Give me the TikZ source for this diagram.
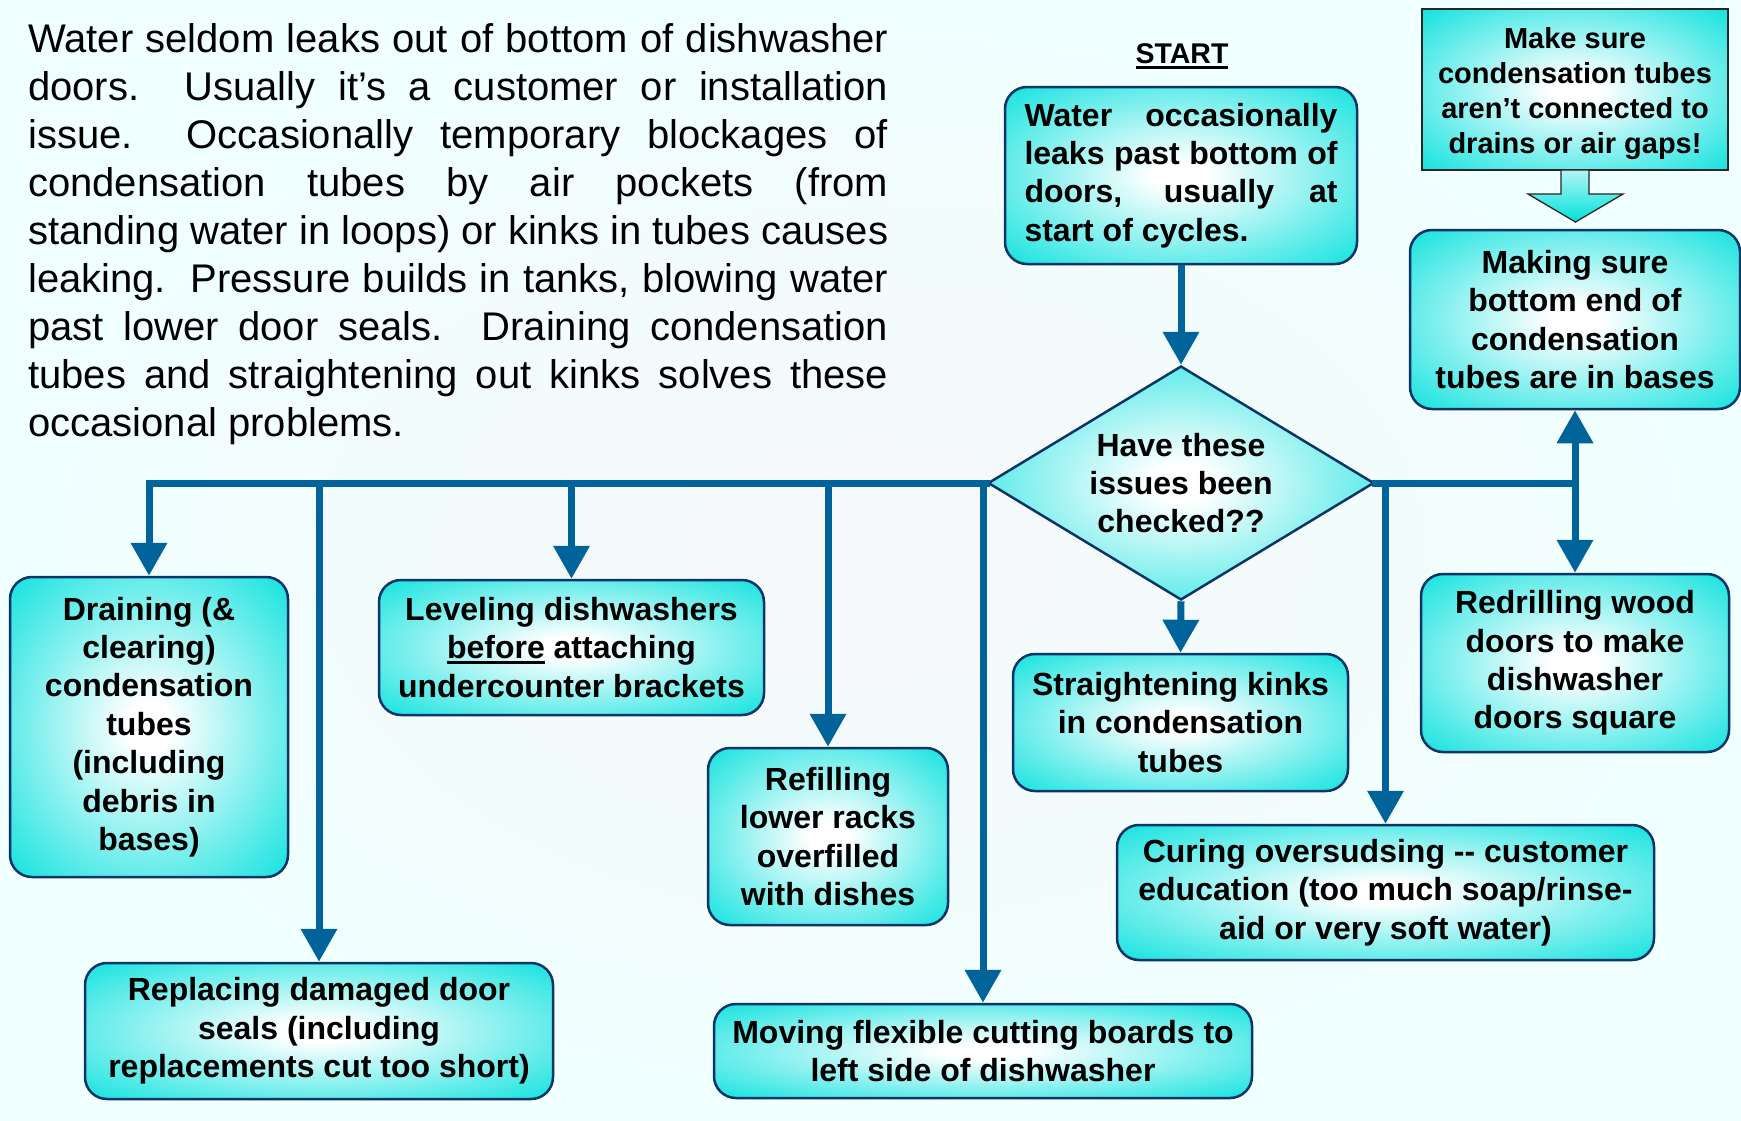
\documentclass[tikz,border=0pt]{standalone}
\usepackage{fontspec}
\setmainfont{Liberation Sans}
\usetikzlibrary{shapes.geometric,arrows.meta}
\definecolor{cyanbox}{RGB}{0,224,220}
\definecolor{boxline}{RGB}{12,52,105}
\definecolor{conncol}{RGB}{0,100,155}
\definecolor{bgin}{RGB}{246,248,250}
\definecolor{bgout}{RGB}{240,255,255}
\newcommand\myul[2]{\setbox0\hbox{#1}\rlap{\rule[#2]{\wd0}{3.2pt}}\box0\relax}
\pgfdeclareradialshading{boxshade}{\pgfpoint{0bp}{0bp}}{color(0bp)=(white); color(4bp)=(white); color(38bp)=(cyanbox); color(50bp)=(cyanbox)}
\tikzset{
  box/.style={draw=boxline, line width=2.5pt, rounded corners=22pt, shading=boxshade, inner sep=0pt, align=center, font=\bfseries\fontsize{32}{38.4}\selectfont},
  sqbox/.style={box, draw=black!85, rounded corners=0pt, line width=2pt, font=\bfseries\fontsize{29}{35.2}\selectfont},
  conn/.style={draw=conncol, line width=7pt},
  arr/.style={conn, -{Triangle[width=35pt,length=33pt]}},
}
\begin{document}
\begin{tikzpicture}[x=1pt,y=-1pt]
\useasboundingbox (0,0) rectangle (1741,1120);
\shade[inner color=bgin, outer color=bgout] (0,0) rectangle (1741,1120);

% paragraph
\node[anchor=base west, inner sep=0pt] (para) at (28,52) {\parbox[t]{860pt}{\fontsize{40}{48}\selectfont\raggedright
\makebox[860pt][s]{Water seldom leaks out of bottom of dishwasher}\\
\makebox[860pt][s]{doors.\ \ Usually it’s a customer or installation}\\
\makebox[860pt][s]{issue.\ \ Occasionally temporary blockages of}\\
\makebox[860pt][s]{condensation tubes by air pockets (from}\\
\makebox[860pt][s]{standing water in loops) or kinks in tubes causes}\\
\makebox[860pt][s]{leaking.\ \ Pressure builds in tanks, blowing water}\\
\makebox[860pt][s]{past lower door seals.\ \ Draining condensation}\\
\makebox[860pt][s]{tubes and straightening out kinks solves these}\\
occasional problems.}};

% START label
\node[inner sep=0pt, anchor=base, font=\bfseries\fontsize{28.5}{34}\selectfont] (startlbl) at (1182,63) {\myul{START}{-6pt}};

% nodes
\node[box, minimum width=352pt, minimum height=177pt] (start) at (1181,175.5)
 {\parbox{313pt}{\raggedright
 \makebox[313pt][s]{Water occasionally}\\
 \makebox[313pt][s]{leaks past bottom of}\\
 \makebox[313pt][s]{doors, usually at}\\
 start of cycles.}};
\node[sqbox, minimum width=306pt, minimum height=161pt] (top) at (1575,89.5)
 {\raisebox{-4pt}[\height][\depth]{\parbox{300pt}{\centering Make sure\\condensation tubes\\aren’t connected to\\drains or air gaps!}}};
\node[box, minimum width=330pt, minimum height=179pt] (making) at (1575,319.5)
 {Making sure\\bottom end of\\condensation\\tubes are in bases};
\node[box, diamond, rounded corners=0pt, aspect=1.65, minimum width=386pt, minimum height=234pt] (dec) at (1181,483)
 {Have these\\issues been\\checked??};
\node[box, minimum width=278pt, minimum height=300pt] (drain) at (149,727)
 {Draining (\&\\clearing)\\condensation\\tubes\\(including\\debris in\\bases)};
\node[box, minimum width=468pt, minimum height=136pt] (replace) at (319,1031)
 {Replacing damaged door\\seals (including\\replacements cut too short)};
\node[box, minimum width=385pt, minimum height=135pt] (level) at (571.5,647.5)
 {Leveling dishwashers\\\myul{before}{-5pt} attaching\\undercounter brackets};
\node[box, minimum width=240pt, minimum height=177pt] (refill) at (828,836.5)
 {Refilling\\lower racks\\overfilled\\with dishes};
\node[box, minimum width=538pt, minimum height=94pt] (move) at (983,1051)
 {Moving flexible cutting boards to\\left side of dishwasher};
\node[box, minimum width=335pt, minimum height=137pt] (straight) at (1180.5,722.5)
 {Straightening kinks\\in condensation\\tubes};
\node[box, minimum width=308pt, minimum height=178pt] (redrill) at (1575,663)
 {Redrilling wood\\doors to make\\dishwasher\\doors square};
\node[box, minimum width=537pt, minimum height=135pt] (cure) at (1385.5,892.5)
 {Curing oversudsing {-}{-} customer\\education (too much soap/rinse-\\aid or very soft water)};

% block arrow from top box to making box
\path[draw=black!85, line width=1.3pt, top color=cyanbox!30!white, bottom color=cyanbox]
 (1561,170) -- (1589,170) -- (1589,194) -- (1623,194) -- (1575.5,222) -- (1528,194) -- (1561,194) -- cycle;

% connectors
\draw[arr] (start.south) -- (dec.north);
\draw[arr] (dec.south) -- (straight.north);
\draw[conn, line cap=rect] (dec.west) -- (drain.north |- dec.west);
\draw[conn, line cap=rect] (dec.east) -- (making.south |- dec.east);
\draw[arr] (drain.north |- dec.west) -- (drain.north);
\draw[arr] (replace.north |- dec.west) -- (replace.north);
\draw[arr] (level.north |- dec.west) -- (level.north);
\draw[arr] (refill.north |- dec.west) -- (refill.north);
\draw[arr] (move.north |- dec.west) -- (move.north);
\draw[arr] (cure.north |- dec.east) -- (cure.north);
\draw[arr] (making.south |- dec.east) -- (making.south);
\draw[arr] (redrill.north |- dec.east) -- (redrill.north);
\end{tikzpicture}
\end{document}
